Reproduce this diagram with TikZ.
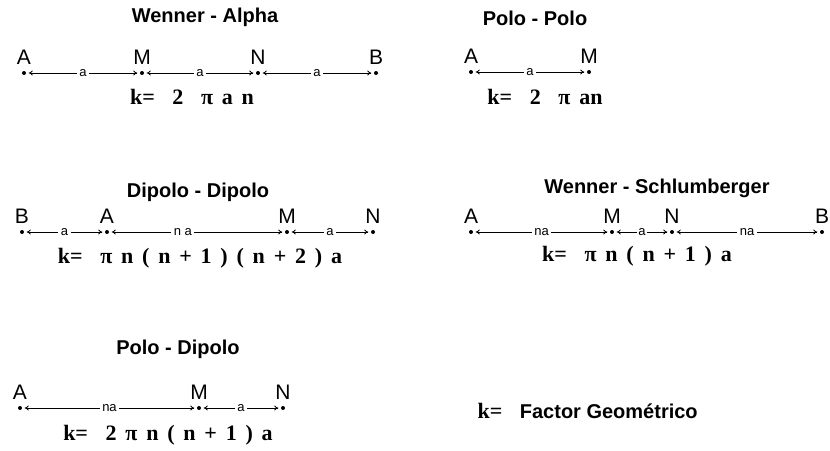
\documentclass[tikz,border=0pt]{standalone}
\usepackage{fontspec}
\setmainfont{Liberation Serif}
\setsansfont{Liberation Sans}
\usetikzlibrary{arrows.meta}
\newcommand\espaciado{\spaceskip=0.4em\relax}
\tikzset{arreglo/.style={x=1pt,y=-1pt},
  titulo/.style={font=\sffamily\bfseries\fontsize{20}{22}\selectfont},
  elec/.style={circle,fill=black,inner sep=0pt,minimum size=4pt},
  elab/.style={font=\sffamily\fontsize{21}{22}\selectfont,inner sep=1pt,label distance=5pt},
  dist/.style={{To[length=4pt,width=5pt]}-{To[length=4pt,width=5pt]},line width=0.8pt,shorten <=2.5pt,shorten >=2.5pt},
  sep/.style={fill=white,inner sep=2.5pt,font=\sffamily\fontsize{13}{14}\selectfont},
  formula/.style={font=\bfseries\fontsize{22}{24}\selectfont\espaciado}}

\begin{document}
\begin{tikzpicture}[arreglo]
    \useasboundingbox (0,0) rectangle (830,450);
    % Wenner - Alpha
    \node[titulo] (tWA) at (205,17) {Wenner - Alpha};
    \node[elec,label={[elab]above:A}] (waA) at (24,73) {};
    \node[elec,label={[elab]above:M}] (waM) at (142,73) {};
    \node[elec,label={[elab]above:N}] (waN) at (258,73) {};
    \node[elec,label={[elab]above:B}] (waB) at (376,73) {};
    \draw[dist] (waA) -- node[sep] {a} (waM);
    \draw[dist] (waM) -- node[sep] {a} (waN);
    \draw[dist] (waN) -- node[sep] {a} (waB);
    \node[formula] (kWA) at (192,97) {k=\ \ 2\ \ π\ a\ n};
    % Polo - Polo
    \node[titulo] (tPP) at (535,18) {Polo - Polo};
    \node[elec,label={[elab]above:A}] (ppA) at (471,72) {};
    \node[elec,label={[elab]above:M}] (ppM) at (589,72) {};
    \draw[dist] (ppA) -- node[sep] {a} (ppM);
    \node[formula] (kPP) at (545,97) {k=\ \ 2\ \ π\ an};
    % Dipolo - Dipolo
    \node[titulo] (tDD) at (198,192) {Dipolo - Dipolo};
    \node[elec,label={[elab]above:B}] (ddB) at (22,232) {};
    \node[elec,label={[elab]above:A}] (ddA) at (107,232) {};
    \node[elec,label={[elab]above:M}] (ddM) at (287,232) {};
    \node[elec,label={[elab]above:N}] (ddN) at (373,232) {};
    \draw[dist] (ddB) -- node[sep] {a} (ddA);
    \draw[dist] (ddA) -- node[sep,pos=.42] {n a} (ddM);
    \draw[dist] (ddM) -- node[sep] {a} (ddN);
    \node[formula] (kDD) at (200,258) {k=\ \ π n ( n + 1 ) ( n + 2 ) a};
    % Wenner - Schlumberger
    \node[titulo] (tWS) at (657,188) {Wenner - Schlumberger};
    \node[elec,label={[elab]above:A}] (wsA) at (471,232) {};
    \node[elec,label={[elab]above:M}] (wsM) at (612,232) {};
    \node[elec,label={[elab]above:N}] (wsN) at (672,232) {};
    \node[elec,label={[elab]above:B}] (wsB) at (822,232) {};
    \draw[dist] (wsA) -- node[sep] {na} (wsM);
    \draw[dist] (wsM) -- node[sep,inner sep=1.5pt] {a} (wsN);
    \draw[dist] (wsN) -- node[sep] {na} (wsB);
    \node[formula] (kWS) at (637,256) {k=\ \ π n ( n + 1 ) a};
    % Polo - Dipolo
    \node[titulo] (tPD) at (178,349) {Polo - Dipolo};
    \node[elec,label={[elab]above:A}] (pdA) at (20,408) {};
    \node[elec,label={[elab]above:M}] (pdM) at (199,408) {};
    \node[elec,label={[elab]above:N}] (pdN) at (283,408) {};
    \draw[dist] (pdA) -- node[sep] {na} (pdM);
    \draw[dist] (pdM) -- node[sep] {a} (pdN);
    \node[formula] (kPD) at (168,435) {k=\ \ 2 π n ( n + 1 ) a};
    % leyenda
    \node[formula,anchor=west] (kFG) at (474,411) {k=\ \ \textsf{\fontsize{20}{22}\selectfont\spaceskip=0pt\relax Factor Geométrico}};
\end{tikzpicture}
\end{document}
